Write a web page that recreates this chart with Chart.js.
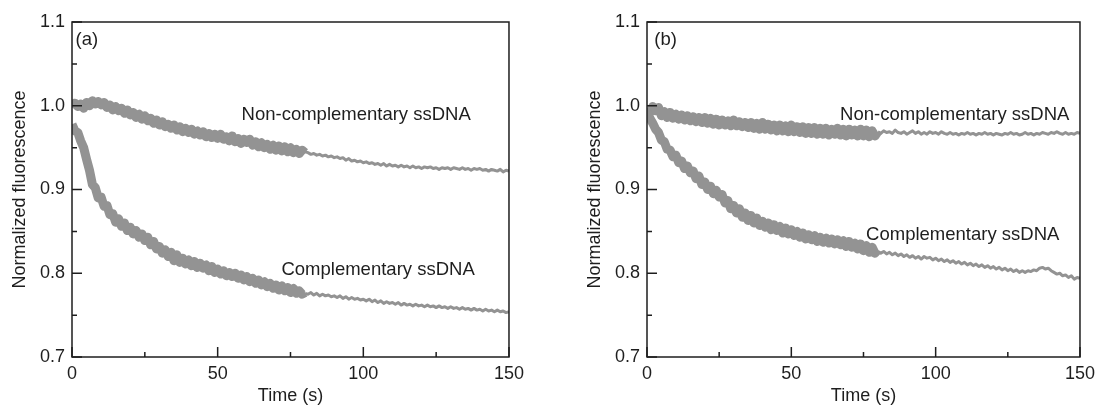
<!DOCTYPE html>
<html>
<head>
<meta charset="utf-8">
<script src="https://cdn.jsdelivr.net/npm/chart.js@4.4.0/dist/chart.umd.min.js"></script>
<style>
  body { margin: 0; background: #fff; width: 1101px; height: 405px; overflow: hidden; position: relative; }
  #wrapA { position: absolute; left: 0; top: 0; width: 530px; height: 405px; }
  #wrapB { position: absolute; left: 575px; top: 0; width: 526px; height: 405px; }
</style>
</head>
<body>
<div id="wrapA"><canvas id="chartA"></canvas></div>
<div id="wrapB"><canvas id="chartB"></canvas></div>
<script>
// Axis ticks
const xMajor = [0, 50, 100, 150];
const xMinor = [25, 75, 125];
const yMajor = [0.7, 0.8, 0.9, 1.0, 1.1];
const yMinor = [0.75, 0.85, 0.95, 1.05];

// Fast sampling part: t = 0..80 s, one reading per second
const denseTime = [
  0,1,2,3,4,5,6,7,8,9,10,11,12,13,14,15,16,17,18,19,20,21,22,23,24,25,26,27,28,29,30,
  31,32,33,34,35,36,37,38,39,40,41,42,43,44,45,46,47,48,49,50,51,52,53,54,55,56,57,58,59,60,
  61,62,63,64,65,66,67,68,69,70,71,72,73,74,75,76,77,78,79,80
];
// Slow sampling part: t = 80..150 s
const tailTime = [
  80,81,82,83,84,85,86,87,88,89,90,91,92,93,94,95,96,97,98,99,100,101,102,103,104,105,
  106,107,108,109,110,111,112,113,114,115,116,117,118,119,120,121,122,123,124,125,126,127,128,
  129,130,131,132,133,134,135,136,137,138,139,140,141,142,143,144,145,146,147,148,149,150
];

// (a) Non-complementary ssDNA
const aNonDense = [
  0.998,1.003,0.999,1.002,0.997,1.004,1.000,1.006,1.002,1.005,1.001,1.004,0.998,1.001,0.995,0.999,
  0.994,0.997,0.991,0.995,0.989,0.992,0.986,0.990,0.984,0.988,0.982,0.985,0.979,0.983,0.977,0.981,
  0.975,0.978,0.973,0.977,0.971,0.975,0.969,0.973,0.968,0.972,0.966,0.970,0.965,0.969,0.963,0.967,
  0.962,0.966,0.961,0.966,0.960,0.963,0.958,0.964,0.957,0.961,0.955,0.960,0.956,0.960,0.953,0.957,
  0.951,0.956,0.950,0.954,0.948,0.953,0.947,0.952,0.946,0.951,0.945,0.950,0.944,0.948,0.943,0.947,0.944
];
const aNonTail = [
  0.945,0.944,0.942,0.943,0.941,0.942,0.940,0.941,0.939,0.940,0.938,0.939,0.937,0.938,0.935,0.937,
  0.934,0.935,0.933,0.934,0.932,0.933,0.931,0.932,0.930,0.931,0.929,0.931,0.928,0.930,0.928,0.929,
  0.927,0.929,0.927,0.928,0.926,0.928,0.926,0.927,0.925,0.927,0.926,0.927,0.925,0.926,0.924,0.926,
  0.925,0.926,0.924,0.926,0.925,0.924,0.926,0.924,0.925,0.923,0.925,0.924,0.925,0.923,0.924,0.922,
  0.924,0.923,0.922,0.924,0.921,0.923,0.922
];

// (a) Complementary ssDNA
const aCompDense = [
  0.978,0.970,0.968,0.958,0.950,0.936,0.923,0.906,0.902,0.890,0.891,0.880,0.881,0.870,0.871,0.861,
  0.865,0.856,0.860,0.851,0.855,0.847,0.851,0.843,0.847,0.839,0.843,0.834,0.838,0.829,0.832,0.824,
  0.828,0.820,0.825,0.815,0.822,0.813,0.818,0.811,0.816,0.809,0.814,0.807,0.812,0.806,0.810,0.803,
  0.808,0.801,0.805,0.799,0.803,0.797,0.801,0.796,0.800,0.794,0.798,0.792,0.796,0.790,0.794,0.788,
  0.792,0.786,0.790,0.784,0.788,0.782,0.786,0.780,0.785,0.779,0.783,0.777,0.782,0.776,0.779,0.775,0.777
];
const aCompTail = [
  0.776,0.775,0.777,0.774,0.776,0.773,0.775,0.773,0.774,0.772,0.773,0.771,0.773,0.770,0.772,0.769,
  0.771,0.769,0.770,0.768,0.769,0.767,0.769,0.766,0.768,0.765,0.767,0.764,0.766,0.764,0.765,0.763,
  0.765,0.762,0.764,0.762,0.763,0.761,0.763,0.761,0.762,0.760,0.762,0.760,0.761,0.759,0.761,0.759,
  0.760,0.758,0.760,0.758,0.759,0.757,0.759,0.757,0.758,0.756,0.758,0.756,0.757,0.755,0.757,0.755,
  0.756,0.754,0.756,0.754,0.755,0.753,0.754
];

// (b) Non-complementary ssDNA
const bNonDense = [
  0.997,0.992,0.999,0.994,0.998,0.988,0.993,0.986,0.992,0.985,0.990,0.984,0.989,0.983,0.988,0.982,
  0.987,0.981,0.986,0.980,0.986,0.979,0.985,0.978,0.984,0.977,0.983,0.977,0.982,0.976,0.983,0.976,
  0.981,0.975,0.980,0.974,0.980,0.973,0.979,0.972,0.980,0.972,0.978,0.971,0.977,0.970,0.977,0.970,
  0.976,0.969,0.977,0.969,0.975,0.968,0.975,0.967,0.974,0.967,0.974,0.966,0.973,0.966,0.973,0.965,
  0.972,0.966,0.973,0.965,0.972,0.964,0.972,0.965,0.971,0.964,0.972,0.964,0.971,0.963,0.970,0.964,0.969
];
const bNonTail = [
  0.969,0.967,0.970,0.968,0.969,0.967,0.971,0.968,0.967,0.969,0.966,0.968,0.970,0.967,0.969,0.966,
  0.968,0.966,0.969,0.967,0.968,0.966,0.969,0.967,0.966,0.968,0.966,0.967,0.965,0.967,0.966,0.968,
  0.966,0.967,0.965,0.967,0.966,0.968,0.966,0.967,0.965,0.967,0.966,0.965,0.967,0.966,0.968,0.966,
  0.967,0.965,0.966,0.968,0.966,0.967,0.965,0.967,0.966,0.968,0.967,0.966,0.968,0.967,0.969,0.967,
  0.966,0.968,0.966,0.967,0.966,0.968,0.967
];

// (b) Complementary ssDNA
const bCompDense = [
  0.992,0.985,0.979,0.972,0.968,0.959,0.957,0.948,0.947,0.939,0.941,0.932,0.934,0.925,0.928,0.920,
  0.922,0.913,0.916,0.906,0.909,0.900,0.904,0.895,0.899,0.891,0.894,0.884,0.887,0.877,0.881,0.872,
  0.877,0.867,0.872,0.863,0.869,0.860,0.866,0.857,0.862,0.855,0.860,0.852,0.858,0.851,0.856,0.848,
  0.854,0.847,0.852,0.845,0.850,0.843,0.848,0.841,0.846,0.840,0.845,0.838,0.843,0.837,0.842,0.836,
  0.841,0.835,0.840,0.834,0.839,0.832,0.838,0.831,0.836,0.829,0.835,0.827,0.833,0.825,0.831,0.824,0.828
];
const bCompTail = [
  0.826,0.824,0.826,0.823,0.825,0.822,0.824,0.821,0.823,0.820,0.822,0.819,0.821,0.818,0.820,0.817,
  0.820,0.818,0.819,0.816,0.818,0.815,0.817,0.814,0.816,0.813,0.815,0.812,0.814,0.811,0.813,0.810,
  0.812,0.809,0.811,0.808,0.810,0.807,0.809,0.806,0.808,0.805,0.807,0.804,0.806,0.803,0.805,0.802,
  0.804,0.801,0.803,0.801,0.803,0.802,0.804,0.803,0.806,0.807,0.805,0.806,0.803,0.801,0.799,0.800,
  0.797,0.798,0.795,0.797,0.793,0.795,0.794
];

// Text labels in data units [text, time, value]
const notesA = [['(a)', 1.2, 1.079], ['Non-complementary ssDNA', 58.2, 0.989], ['Complementary ssDNA', 71.9, 0.804]];
const notesB = [['(b)', 2.5, 1.079], ['Non-complementary ssDNA', 66.9, 0.989], ['Complementary ssDNA', 75.9, 0.846]];

const FONT = "'Liberation Sans', Arial, sans-serif";
const INK = '#1e1e1e';
const DOTS = '#939393';

const pairs = (t, v) => t.map((x, i) => ({ x: x, y: v[i] }));

// draws the box and the inward ticks, then the text notes
const frameTicks = {
  id: 'frameTicks',
  afterDatasetsDraw(chart) {
    const { ctx, chartArea: a, scales: { x, y } } = chart;
    ctx.save();
    ctx.strokeStyle = INK;
    ctx.lineWidth = 1.5;
    ctx.strokeRect(a.left, a.top, a.right - a.left, a.bottom - a.top);
    ctx.beginPath();
    xMajor.forEach(v => { const px = x.getPixelForValue(v); ctx.moveTo(px, a.bottom); ctx.lineTo(px, a.bottom - 10); });
    xMinor.forEach(v => { const px = x.getPixelForValue(v); ctx.moveTo(px, a.bottom); ctx.lineTo(px, a.bottom - 5); });
    yMajor.forEach(v => { const py = y.getPixelForValue(v); ctx.moveTo(a.left, py); ctx.lineTo(a.left + 10, py); });
    yMinor.forEach(v => { const py = y.getPixelForValue(v); ctx.moveTo(a.left, py); ctx.lineTo(a.left + 5, py); });
    ctx.stroke();

    ctx.fillStyle = INK;
    ctx.font = '18.5px ' + FONT;
    ctx.textBaseline = 'middle';
    ctx.textAlign = 'left';
    chart.options.plugins.frameTicks.notes.forEach(n => {
      ctx.fillText(n[0], x.getPixelForValue(n[1]), y.getPixelForValue(n[2]));
    });
    ctx.restore();
  }
};

function makePanel(id, rightPad, series, notes) {
  const ds = (data, width) => ({
    data: data,
    borderColor: DOTS,
    borderWidth: width,
    borderJoinStyle: 'round',
    pointRadius: 0,
    tension: 0,
    fill: false
  });
  return new Chart(document.getElementById(id), {
    type: 'line',
    data: {
      datasets: [
        ds(pairs(denseTime, series[0]), 9),
        ds(pairs(tailTime, series[1]), 3),
        ds(pairs(denseTime, series[2]), 9),
        ds(pairs(tailTime, series[3]), 3)
      ]
    },
    options: {
      responsive: true,
      maintainAspectRatio: false,
      animation: false,
      events: [],
      layout: { padding: { top: 22, right: rightPad, bottom: 0, left: 0 } },
      plugins: {
        legend: { display: false },
        tooltip: { enabled: false },
        frameTicks: { notes: notes }
      },
      scales: {
        x: {
          type: 'linear',
          min: 0,
          max: 150,
          grid: { display: false, drawTicks: false },
          border: { display: false },
          ticks: { stepSize: 50, padding: 6, color: INK, font: { family: FONT, size: 18 }, maxRotation: 0 },
          title: { display: true, text: 'Time (s)', color: INK, font: { family: FONT, size: 18, lineHeight: 1 }, padding: 0 },
          afterFit: s => { s.height = 48; }
        },
        y: {
          min: 0.7,
          max: 1.1,
          grid: { display: false, drawTicks: false },
          border: { display: false },
          ticks: { stepSize: 0.1, padding: 7, color: INK, font: { family: FONT, size: 18 }, callback: v => v.toFixed(1) },
          title: { display: true, text: 'Normalized fluorescence', color: INK, font: { family: FONT, size: 18, lineHeight: 1 }, padding: { top: 11, bottom: 0 } },
          afterFit: s => { s.width = 72; }
        }
      }
    },
    plugins: [frameTicks]
  });
}

makePanel('chartA', 20, [aCompDense, aCompTail, aNonDense, aNonTail], notesA);
makePanel('chartB', 17, [bCompDense, bCompTail, bNonDense, bNonTail], notesB);
</script>
</body>
</html>
